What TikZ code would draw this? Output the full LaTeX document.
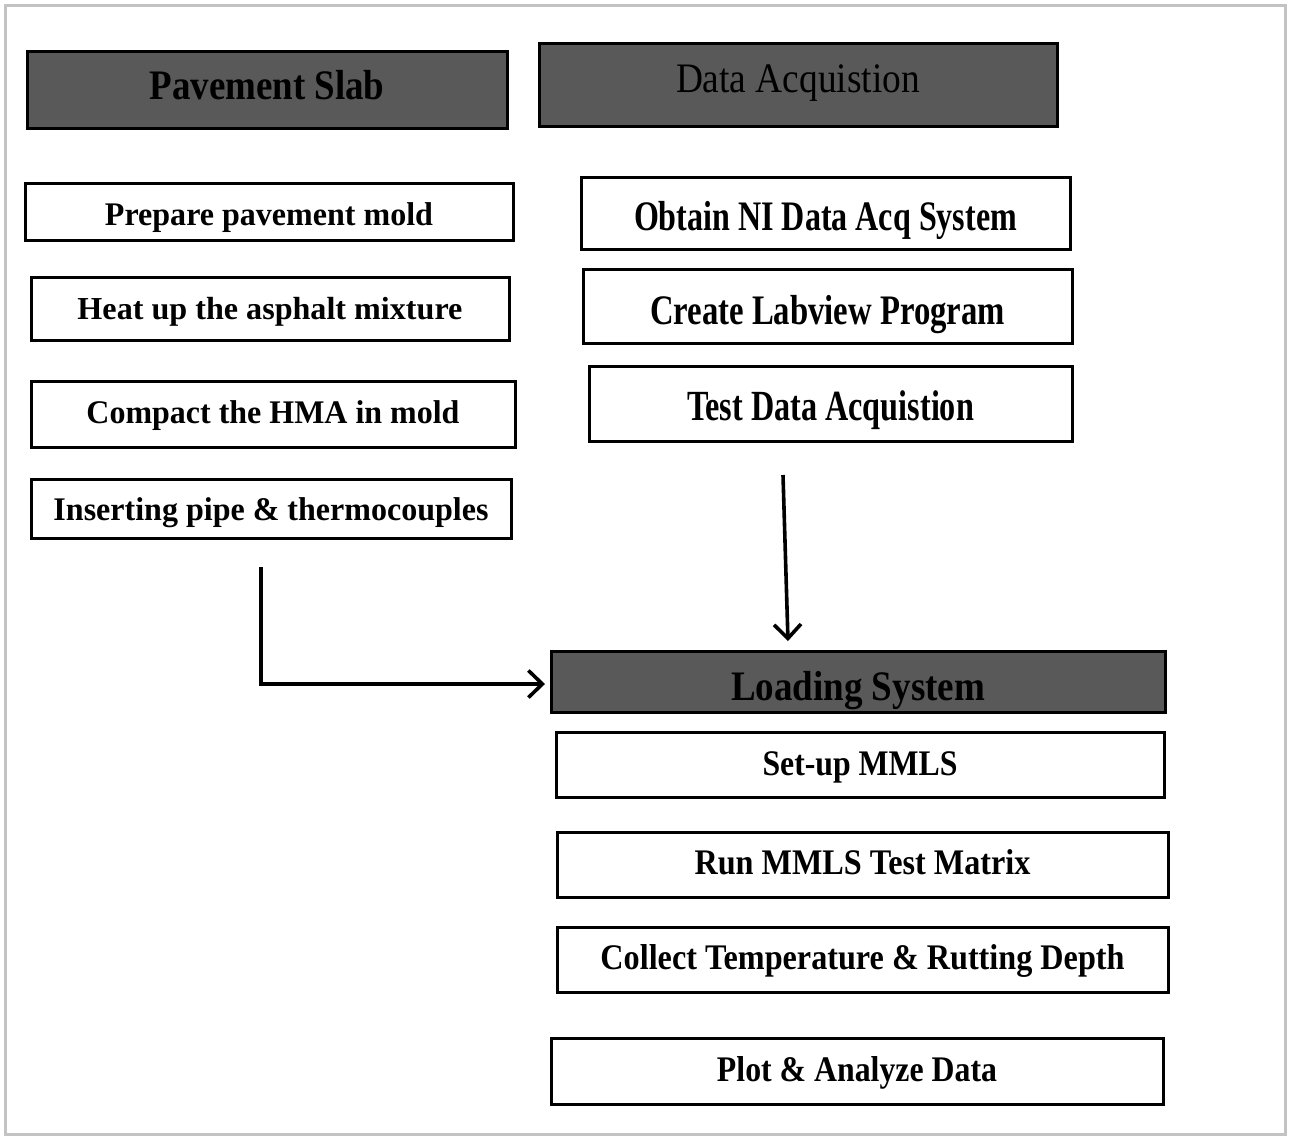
\documentclass[tikz,border=0pt]{standalone}
\usepackage{fontspec}
\setmainfont{Liberation Serif}
\usepackage{graphicx}
\usetikzlibrary{arrows.meta}
\definecolor{hdr}{HTML}{595959}
\definecolor{framegray}{HTML}{C3C3C3}
\newcommand\fitT[3]{\resizebox{#1pt}{\height}{\fontsize{#2}{#2}\selectfont #3}}
\begin{document}
\begin{tikzpicture}[x=1pt,y=-1pt,
  basebox/.style={draw=black, line width=3pt, inner sep=0pt, align=center},
  wbox/.style={basebox, fill=white},
  hbox/.style={basebox, fill=hdr},
  arr/.style={draw=black, line width=3.6pt, line join=miter, -{Straight Barb[length=14pt,width=27pt]}},
]
\useasboundingbox (0,0) rectangle (1290,1136);
\draw[framegray, line width=3pt] (5,5.5) rectangle (1285,1134);

% headers
\node[hbox, minimum width=480pt, minimum height=77pt, text height=29.5pt, text depth=10.5pt] (ps) at (267,89.5) {\fitT{235}{42}{\bfseries Pavement Slab}};
\node[hbox, minimum width=518pt, minimum height=83pt, text height=27.5pt, text depth=12.5pt] (da) at (798,84.5) {\fitT{244}{42}{Data Acquistion}};
\node[hbox, minimum width=614pt, minimum height=61pt, text height=38.5pt, text depth=1.5pt] (ls) at (858,681.5) {\fitT{254}{42}{\bfseries Loading System}};

% left column
\node[wbox, minimum width=488pt, minimum height=57pt, text height=33.5pt, text depth=6.5pt] (p1) at (269,211.5) {\fitT{328}{33}{\bfseries Prepare pavement mold}};
\node[wbox, minimum width=478pt, minimum height=63pt, text height=30.5pt, text depth=9.5pt] (p2) at (270,308.5) {\fitT{385}{32}{\bfseries Heat up the asphalt mixture}};
\node[wbox, minimum width=484pt, minimum height=66pt, text height=29pt, text depth=11pt] (p3) at (273,414) {\fitT{373}{33}{\bfseries Compact the HMA in mold}};
\node[wbox, minimum width=480pt, minimum height=59pt, text height=31.5pt, text depth=8.5pt] (p4) at (271,508.5) {\fitT{435}{33}{\bfseries Inserting pipe \& thermocouples}};

% right column (data acquisition)
\node[wbox, minimum width=489pt, minimum height=72pt, text height=37pt, text depth=3pt] (d1) at (825.5,213) {\fitT{383}{42}{\bfseries Obtain NI Data Acq System}};
\node[wbox, minimum width=489pt, minimum height=74pt, text height=38pt, text depth=2pt] (d2) at (827.5,306) {\fitT{355}{42}{\bfseries Create Labview Program}};
\node[wbox, minimum width=483pt, minimum height=75pt, text height=36.5pt, text depth=3.5pt] (d3) at (830.5,403.5) {\fitT{287}{43}{\bfseries Test Data Acquistion}};

% loading system steps
\node[wbox, minimum width=608pt, minimum height=65pt, text height=30.5pt, text depth=9.5pt] (l1) at (860,764.5) {\fitT{195}{36}{\bfseries Set-up MMLS}};
\node[wbox, minimum width=611pt, minimum height=65pt, text height=29.5pt, text depth=10.5pt] (l2) at (862.5,864.5) {\fitT{336}{36}{\bfseries Run MMLS Test Matrix}};
\node[wbox, minimum width=611pt, minimum height=65pt, text height=29.5pt, text depth=10.5pt] (l3) at (862.5,959.5) {\fitT{524}{36}{\bfseries Collect Temperature \& Rutting Depth}};
\node[wbox, minimum width=612pt, minimum height=66pt, text height=30pt, text depth=10pt] (l4) at (857,1071) {\fitT{280}{36}{\bfseries Plot \& Analyze Data}};

% connectors
\coordinate (a1s) at (261,567);
\coordinate (a1e) at (545,684);
\coordinate (a2s) at (783,475);
\coordinate (a2e) at (788,641);
\draw[arr] (a1s) |- (a1e);
\draw[arr] (a2s) -- (a2e);
\end{tikzpicture}
\end{document}
